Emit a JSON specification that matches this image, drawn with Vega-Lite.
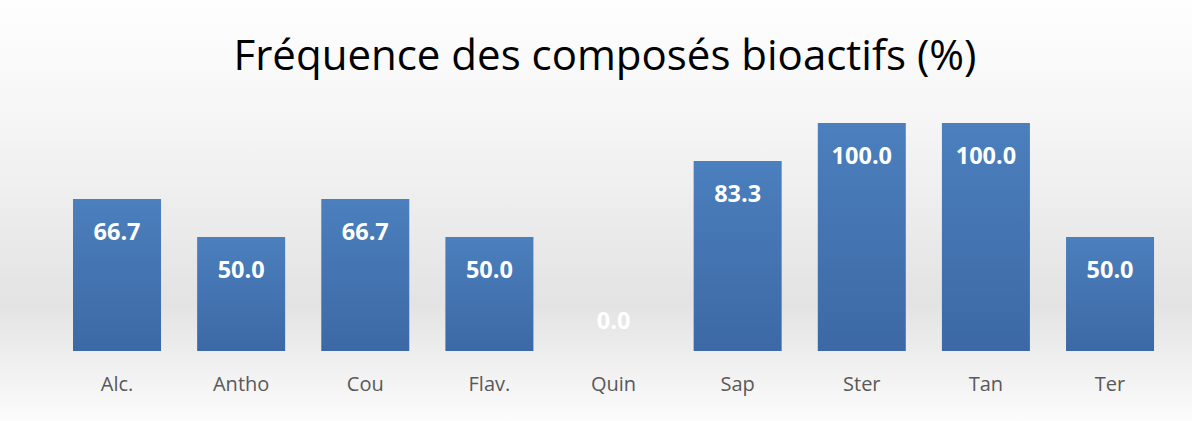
{
  "$schema": "https://vega.github.io/schema/vega-lite/v6.json",
  "width": 1192,
  "height": 421,
  "padding": 0,
  "autosize": {"type": "none"},
  "background": "#fdfdfd",
  "title": {
    "text": "Fréquence des composés bioactifs (%)",
    "font": "Open Sans",
    "fontSize": 42,
    "fontWeight": "normal",
    "color": "#000000",
    "orient": "none",
    "anchor": "middle",
    "align": "center",
    "baseline": "alphabetic",
    "dx": 605,
    "dy": 70
  },
  "config": {
    "view": {
      "stroke": null,
      "fill": {
        "gradient": "linear",
        "x1": 0, "y1": 0, "x2": 0, "y2": 1,
        "stops": [
          {"offset": 0, "color": "#fefefe"},
          {"offset": 0.3, "color": "#f5f5f5"},
          {"offset": 0.72, "color": "#e3e3e3"},
          {"offset": 0.87, "color": "#f0f0f0"},
          {"offset": 1, "color": "#fcfcfc"}
        ]
      }
    }
  },
  "data": {
    "values": [
      {"cat": "Alc.", "v": 66.7},
      {"cat": "Antho", "v": 50.0},
      {"cat": "Cou", "v": 66.7},
      {"cat": "Flav.", "v": 50.0},
      {"cat": "Quin", "v": 0.0},
      {"cat": "Sap", "v": 83.3},
      {"cat": "Ster", "v": 100.0},
      {"cat": "Tan", "v": 100.0},
      {"cat": "Ter", "v": 50.0}
    ]
  },
  "encoding": {
    "x": {
      "field": "cat",
      "type": "nominal",
      "sort": null,
      "scale": {"paddingInner": 0.291, "paddingOuter": 0.447, "align": 0.658},
      "axis": {
        "title": null,
        "orient": "bottom",
        "offset": -70,
        "ticks": false,
        "domain": false,
        "grid": false,
        "labelAngle": 0,
        "labelFont": "Open Sans",
        "labelFontSize": 20,
        "labelColor": "#595959",
        "labelBaseline": "alphabetic",
        "labelPadding": 39
      }
    },
    "y": {
      "field": "v",
      "type": "quantitative",
      "scale": {"domain": [-30.7, 153.95], "nice": false, "zero": false},
      "axis": null
    }
  },
  "layer": [
    {
      "mark": {
        "type": "bar",
        "color": {
          "gradient": "linear",
          "x1": 0, "y1": 0, "x2": 0, "y2": 1,
          "stops": [
            {"offset": 0, "color": "#4b7fbd"},
            {"offset": 1, "color": "#3c69a5"}
          ]
        }
      },
      "encoding": {
        "y2": {"datum": 0}
      }
    },
    {
      "transform": [{"filter": "datum.v > 0"}],
      "mark": {
        "type": "text",
        "font": "Open Sans",
        "fontSize": 23.5,
        "fontWeight": "bold",
        "color": "#ffffff",
        "baseline": "alphabetic",
        "align": "center",
        "dy": 41
      },
      "encoding": {
        "text": {"field": "v", "type": "quantitative", "format": ".1f"}
      }
    },
    {
      "transform": [{"filter": "datum.v == 0"}],
      "mark": {
        "type": "text",
        "font": "Open Sans",
        "fontSize": 23.5,
        "fontWeight": "bold",
        "color": "#ffffff",
        "baseline": "alphabetic",
        "align": "center",
        "dy": -22
      },
      "encoding": {
        "text": {"field": "v", "type": "quantitative", "format": ".1f"}
      }
    }
  ]
}
